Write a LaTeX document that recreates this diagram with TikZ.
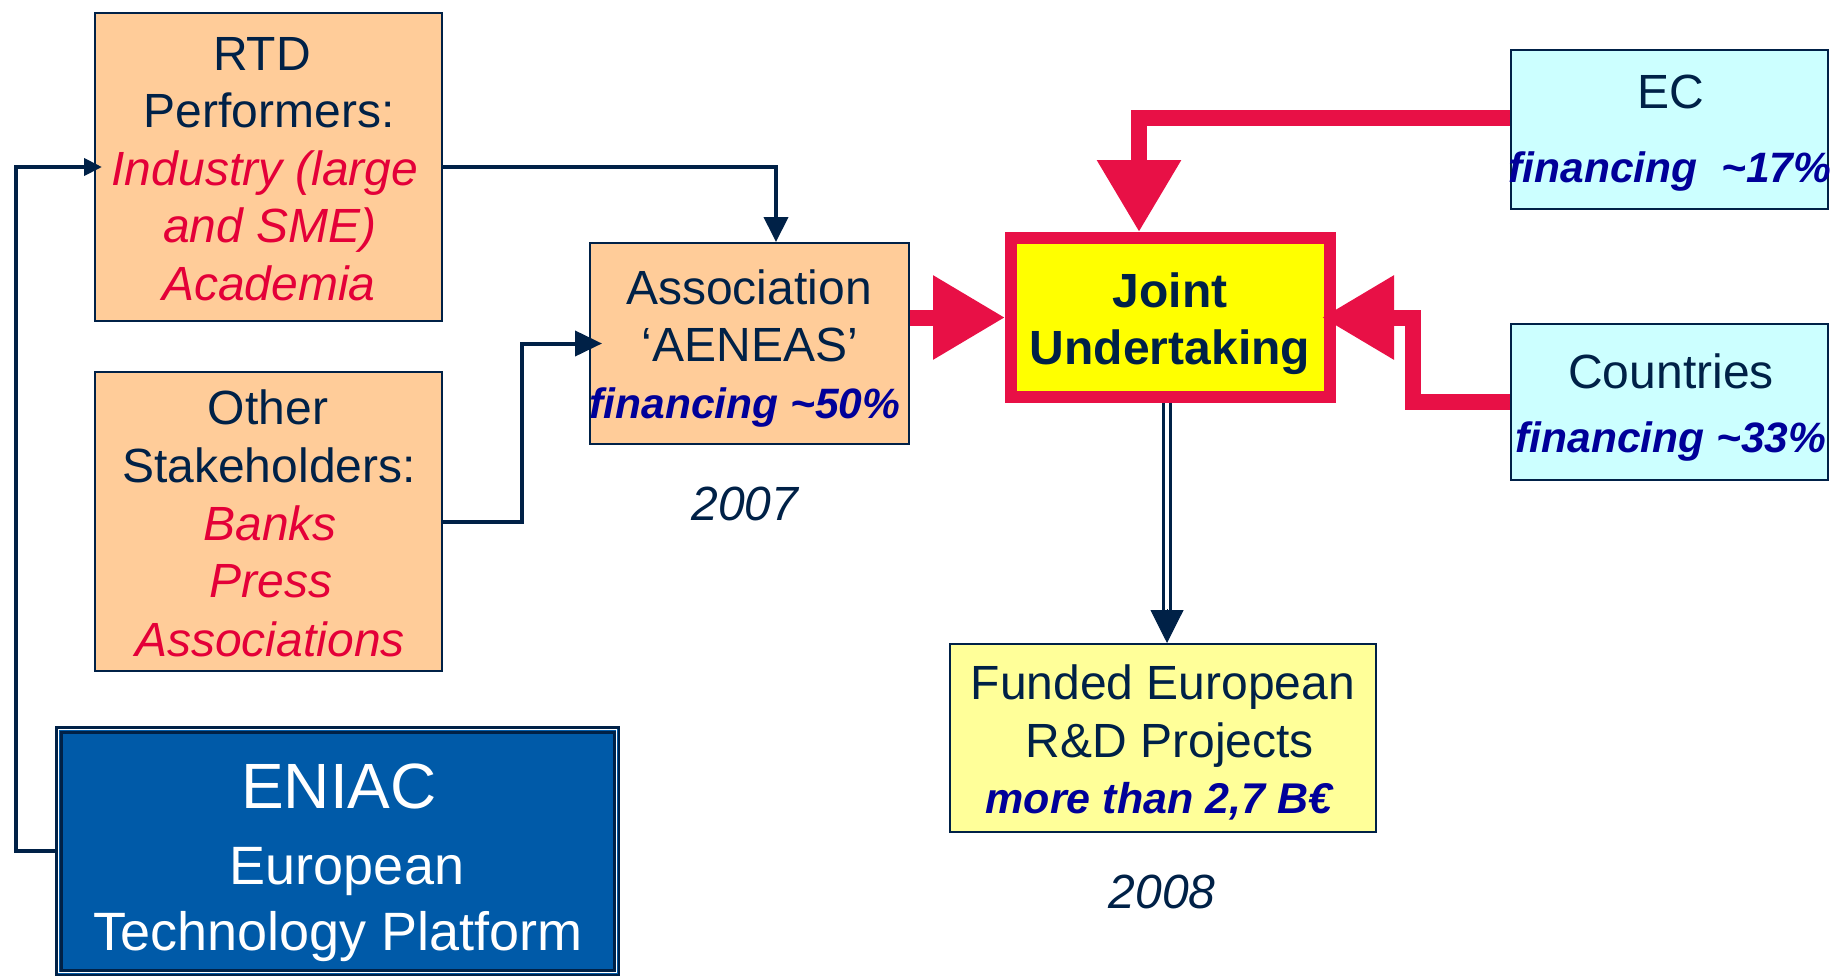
\documentclass[tikz,border=0pt]{standalone}
\usepackage{fontspec}
\setmainfont{Liberation Sans}
\usetikzlibrary{arrows.meta}
\definecolor{navyc}{RGB}{0,33,71}
\definecolor{redc}{RGB}{232,16,70}
\definecolor{crim}{RGB}{228,0,56}
\definecolor{peach}{RGB}{255,204,153}
\definecolor{finb}{RGB}{0,0,153}
\definecolor{cyanb}{RGB}{204,255,255}
\definecolor{yelc}{RGB}{255,255,0}
\definecolor{lyel}{RGB}{255,255,153}
\definecolor{eniacb}{RGB}{0,90,168}
\begin{document}
\begin{tikzpicture}[x=1pt,y=-1pt,
  box/.style={draw=navyc, line width=2pt, inner sep=0pt},
  t/.style={anchor=base, inner sep=0pt, text=navyc, font=\fontsize{48}{57}\selectfont},
  tr/.style={anchor=base, inner sep=0pt, text=crim, font=\fontsize{48}{57}\selectfont\itshape},
  tf/.style={anchor=base, inner sep=0pt, text=finb, font=\fontsize{42.5}{50}\selectfont\bfseries\itshape},
  tw/.style={anchor=base, inner sep=0pt, text=white},
  ln/.style={draw=navyc, line width=4pt},
  redarr/.style={draw=redc, line width=16pt, -{Triangle[length=72pt,width=80pt]}}]
\useasboundingbox (0,0) rectangle (1841,975);
\clip (0,0) rectangle (1841,975);
\fill[white] (0,0) rectangle (1841,975);

% boxes
\node[box, fill=peach, minimum width=347pt, minimum height=308pt] (rtd) at (268.5,167) {};
\node[box, fill=peach, minimum width=347pt, minimum height=299pt] (oth) at (268.5,521.5) {};
\node[box, fill=peach, minimum width=319pt, minimum height=201pt] (assoc) at (749.5,343.5) {};
\node[draw=redc, line width=12pt, fill=yelc, minimum width=319pt, minimum height=159pt, inner sep=0pt] (joint) at (1170.5,317.5) {};
\node[box, fill=cyanb, minimum width=317pt, minimum height=159pt] (ec) at (1669.5,129.5) {};
\node[box, fill=cyanb, minimum width=317pt, minimum height=156pt] (ctry) at (1669.5,402) {};
\node[box, fill=lyel, minimum width=426pt, minimum height=188pt] (fund) at (1163,738) {};
\node[draw=navyc, line width=2.5pt, fill=eniacb, minimum width=562.5pt, minimum height=247.5pt, inner sep=0pt] (eniac) at (337.5,851) {};
\draw[white, line width=1.2pt] ([shift={(3.3,3.3)}]eniac.north west) rectangle ([shift={(-3.3,-3.3)}]eniac.south east);
\draw[navyc, line width=3pt] ([shift={(6,6)}]eniac.north west) rectangle ([shift={(-6,-6)}]eniac.south east);

% texts
\node[t] (rtdA) at (262,70) {RTD};
\node[t] (rtdB) at (269,127) {Performers:};
\node[tr] (rtdC) at (265,185) {Industry (large};
\node[tr] (rtdD) at (270,242) {and SME)};
\node[tr] (rtdE) at (269,300) {Academia};

\node[t] (othA) at (268,424) {Other};
\node[t] (othB) at (269,482) {Stakeholders:};
\node[tr] (othC) at (270,540) {Banks};
\node[tr] (othD) at (271,597) {Press};
\node[tr] (othE) at (270,656) {Associations};

\node[tw, font=\fontsize{64}{72}\selectfont] (enA) at (339,808) {ENIAC};
\node[tw, font=\fontsize{54}{62}\selectfont] (enB) at (347,884) {European};
\node[tw, font=\fontsize{54}{62}\selectfont] (enC) at (338,950) {Technology Platform};

\node[t] (asA) at (749,304) {Association};
\node[t] (asB) at (750,361) {‘AENEAS’};
\node[tf] (asC) at (745,418) {financing \textasciitilde50\%};
\node[t, font=\fontsize{48}{57}\selectfont\itshape] (y07) at (745,520) {2007};

\node[t, font=\fontsize{48}{57}\selectfont\bfseries] (jA) at (1170,307) {Joint};
\node[t, font=\fontsize{48}{57}\selectfont\bfseries] (jB) at (1170,364) {Undertaking};

\node[t] (ecA) at (1671,108) {EC};
\node[tf] (ecB) at (1670,182) {financing\ \ \textasciitilde17\%};
\node[t] (ctA) at (1671,388) {Countries};
\node[tf] (ctB) at (1671,452) {financing \textasciitilde33\%};

\node[t] (fuA) at (1163,699) {Funded European};
\node[t] (fuB) at (1170,757) {R\&D Projects};
\node[tf, font=\fontsize{43}{51}\selectfont\bfseries\itshape] (fuC) at (1159,813) {more than 2,7 B€};
\node[t, font=\fontsize{48}{57}\selectfont\itshape] (y08) at (1162,908) {2008};

% navy connectors
\draw[ln, -{Triangle[length=25pt,width=24pt]}] (rtd.east) -| ([xshift=26.5pt]assoc.north);
\draw[ln, -{Triangle[length=27pt,width=25pt]}] (oth.east) -- ++(79,0) |- ([xshift=13pt]assoc.west);
\draw[ln, -{Triangle[length=18pt,width=17pt]}] (eniac.west) -- ++(-39,0) |- ([xshift=8pt]rtd.west);

% red connectors
\draw[redarr] (assoc.east |- joint.west) -- (joint.west);
\draw[redarr] ([yshift=11.5pt]ec.west) -| ([xshift=-31.5pt]joint.north);
\draw[redarr] (ctry.west) -- ++(-97,0) |- ([xshift=-14pt]joint.east);

% double connector to funded projects
\coordinate (dtop) at ([xshift=-3.5pt]joint.south);
\coordinate (dbot) at (dtop |- fund.north);
\draw[navyc, line width=3pt, double=white, double distance=4pt] (dtop) -- ([yshift=31pt]dbot);
\draw[navyc, line width=1pt, -{Triangle[length=33pt,width=33pt]}] ([yshift=34pt]dbot) -- (dbot);
\end{tikzpicture}
\end{document}
